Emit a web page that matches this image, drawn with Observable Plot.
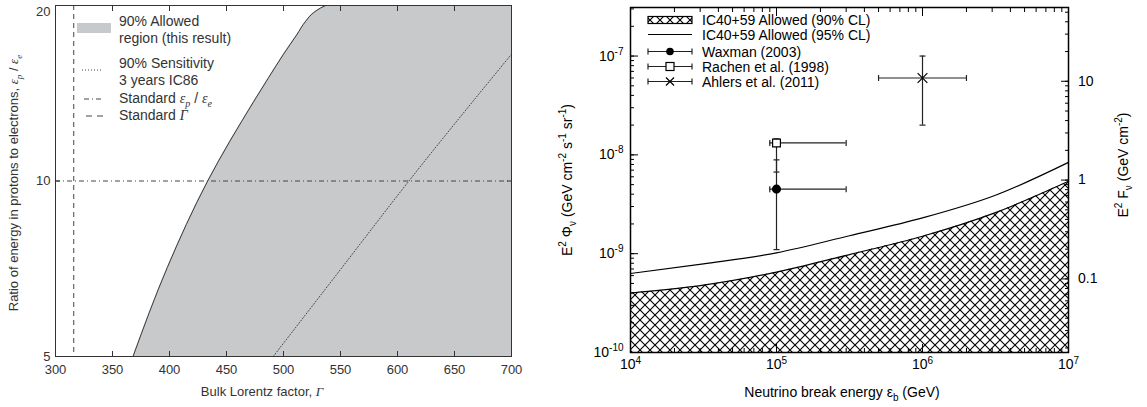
<!DOCTYPE html>
<html><head><meta charset="utf-8">
<script src="https://cdn.jsdelivr.net/npm/d3@7"></script>
<script src="https://cdn.jsdelivr.net/npm/@observablehq/plot@0.6"></script>
<style>
body{margin:0;background:#fff;}
#wrap{position:relative;width:1147px;height:407px;overflow:hidden;background:#fff;}
#left,#right{position:absolute;top:0;}
#left{left:0;} #right{left:540px;}
</style></head><body><div id="wrap"><div id="left"></div><div id="right"></div></div>
<script>
// ---------- Left panel data ----------
const gammaDomain = [300, 700];
const ratioDomain = [5, 20];
const gammaTicks = [300, 350, 400, 450, 500, 550, 600, 650, 700];
const ratioTicks = [5, 10, 20];
const allowedGamma = [368, 398, 433.5, 474, 487, 500, 511.5, 519.5, 526.5, 532.5, 537];
const allowedRatio = [5, 7.1, 10, 13.7, 15.05, 16.5, 17.8, 18.8, 19.45, 19.8, 20];
const sensGamma = [491, 550, 610, 700];
const sensRatio = [5, 7.05, 10, 16.5];
const standardRatio = [10];
const standardGamma = [316];

// ---------- Right panel data ----------
const energyDomain = [1e4, 1e7];
const fluxDomain = [1e-10, 3.1e-7];
const energyTicks = [1e4, 1e5, 1e6, 1e7];
const fluxTicks = [1e-10, 1e-9, 1e-8, 1e-7];
const fluenceTicks = [0.1, 1, 10];
const fluencePerFlux = 1.8e8;
const energy = [1e4, 3.16e4, 1e5, 3.16e5, 1e6, 3.16e6, 1e7];
const allowed95 = [6.3e-10, 7.9e-10, 1.02e-9, 1.52e-9, 2.3e-9, 3.9e-9, 8.4e-9];
const allowed90 = [4.0e-10, 4.8e-10, 6.5e-10, 9.8e-10, 1.5e-9, 2.6e-9, 5.4e-9];
const models = ["Waxman (2003)", "Rachen et al. (1998)", "Ahlers et al. (2011)"];
const modelE = [1e5, 1e5, 1e6];
const modelEmin = [9e4, 9e4, 5e5];
const modelEmax = [3e5, 3e5, 2e6];
const modelFlux = [4.5e-9, 1.32e-8, 6.0e-8];
const modelFluxMin = [1.1e-9, 6.7e-9, 2.0e-8];
const modelFluxMax = [8.9e-9, 1.45e-8, 1.0e-7];

// ---------- helpers ----------
const sans = "'Liberation Sans', Arial, Helvetica, sans-serif";
const serif = "'Liberation Serif', 'Times New Roman', serif";
const grayInk = "#333";
const grayFill = "#c8c9cb";
function rich(textSel, parts, fs) {
  let shift = 0;
  for (const p of parts) {
    const target = p.sup ? -0.42 * fs : p.sub ? 0.3 * fs : 0;
    const ts = textSel.append("tspan").text(p.t);
    if (target - shift !== 0) ts.attr("dy", target - shift);
    shift = target;
    if (p.sup || p.sub) ts.attr("font-size", Math.round(fs * 0.72));
    if (p.it) ts.attr("font-style", "italic").attr("font-family", serif);
  }
}
function supTicks(svg, fs) {
  d3.select(svg).selectAll("text").each(function () {
    const t = d3.select(this); const s = t.text();
    if (s.includes("^")) {
      const [b, e] = s.split("^");
      t.text("");
      t.append("tspan").text(b);
      t.append("tspan").attr("dy", -0.42 * fs).attr("font-size", Math.round(fs * 0.72)).text(e);
    }
  });
}
const vcap = {draw(ctx, size) { const r = Math.sqrt(size / Math.PI); ctx.moveTo(0, -r); ctx.lineTo(0, r); }};
const hcap = {draw(ctx, size) { const r = Math.sqrt(size / Math.PI); ctx.moveTo(-r, 0); ctx.lineTo(r, 0); }};

// ---------- Left plot ----------
const allowedRows = allowedRatio.map((r, i) => ({r, g: allowedGamma[i]}));
const sensRows = sensRatio.map((r, i) => ({r, g: sensGamma[i]}));
const left = Plot.plot({
  width: 540, height: 407,
  marginLeft: 55, marginRight: 29, marginTop: 5, marginBottom: 51,
  style: {fontFamily: sans, fontSize: "13px", color: grayInk, background: "white", overflow: "visible"},
  x: {domain: gammaDomain, label: null},
  y: {type: "log", domain: ratioDomain, label: null},
  marks: [
    Plot.areaX(allowedRows, {y: "r", x1: "g", x2: gammaDomain[1], fill: grayFill, curve: "monotone-y"}),
    Plot.lineX(allowedRows, {x: "g", y: "r", stroke: "#3a3a3a", strokeWidth: 1, curve: "monotone-y"}),
    Plot.lineX(sensRows, {x: "g", y: "r", stroke: "#444", strokeWidth: 1, strokeDasharray: "1,2", curve: "monotone-y"}),
    Plot.ruleY(standardRatio, {stroke: "#444", strokeWidth: 1, strokeDasharray: "5,3,1,3"}),
    Plot.ruleX(standardGamma, {stroke: "#444", strokeWidth: 1, strokeDasharray: "5,4"}),
    Plot.frame({stroke: "#333"}),
    Plot.axisX({anchor: "bottom", ticks: gammaTicks, tickSize: -5, tickPadding: 13, label: null}),
    Plot.axisX({anchor: "top", ticks: gammaTicks, tickSize: -5, tickFormat: () => "", label: null}),
    Plot.axisY({anchor: "left", ticks: ratioTicks, tickSize: -5, tickPadding: 10, tickFormat: d => String(d), label: null}),
    Plot.axisY({anchor: "right", ticks: ratioTicks, tickSize: -5, tickFormat: () => "", label: null})
  ]
});
document.getElementById("left").appendChild(left);
{
  const s = d3.select(left);
  // keep the top tick label ("20") fully inside the picture
  s.selectAll("text").filter(function () { return d3.select(this).text() === String(ratioDomain[1]); }).attr("dy", "0.45em");
  const xl = s.append("text").attr("x", 262).attr("y", 396).attr("text-anchor", "middle")
    .attr("font-size", 13).attr("fill", grayInk).attr("font-family", sans);
  rich(xl, [{t: "Bulk Lorentz factor, "}, {t: "Γ", it: true}], 13);
  const yl = s.append("text").attr("transform", "translate(18,183) rotate(-90)").attr("text-anchor", "middle")
    .attr("font-size", 13).attr("fill", grayInk).attr("font-family", sans);
  rich(yl, [{t: "Ratio of energy in protons to electrons, "}, {t: "ε", it: true}, {t: "p", it: true, sub: true}, {t: " / "}, {t: "ε", it: true}, {t: "e", it: true, sub: true}], 13);
  // legend
  const lg = s.append("g").attr("font-size", 14).attr("fill", grayInk).attr("font-family", sans).attr("text-anchor", "start");
  lg.append("rect").attr("x", 77).attr("y", 23).attr("width", 34).attr("height", 10).attr("fill", grayFill);
  lg.append("text").attr("x", 119).attr("y", 26).text("90% Allowed");
  lg.append("text").attr("x", 119).attr("y", 43).text("region (this result)");
  lg.append("line").attr("x1", 82).attr("x2", 101).attr("y1", 70).attr("y2", 70).attr("stroke", "#444").attr("stroke-dasharray", "1,2");
  lg.append("text").attr("x", 119).attr("y", 68).text("90% Sensitivity");
  lg.append("text").attr("x", 119).attr("y", 85).text("3 years IC86");
  lg.append("line").attr("x1", 84).attr("x2", 104).attr("y1", 99).attr("y2", 99).attr("stroke", "#444").attr("stroke-dasharray", "5,3,1,3");
  const t3 = lg.append("text").attr("x", 119).attr("y", 103);
  rich(t3, [{t: "Standard "}, {t: "ε", it: true}, {t: "p", it: true, sub: true}, {t: " / "}, {t: "ε", it: true}, {t: "e", it: true, sub: true}], 14);
  lg.append("line").attr("x1", 86).attr("x2", 104).attr("y1", 116).attr("y2", 116).attr("stroke", "#444").attr("stroke-dasharray", "6,5");
  const t4 = lg.append("text").attr("x", 119).attr("y", 120);
  rich(t4, [{t: "Standard "}, {t: "Γ", it: true}], 14);
}

// ---------- Right plot ----------
const curveRows = energy.map((e, i) => ({e, f90: allowed90[i], f95: allowed95[i]}));
const modelRows = models.map((name, i) => ({name, e: modelE[i], emin: modelEmin[i], emax: modelEmax[i], f: modelFlux[i], fmin: modelFluxMin[i], fmax: modelFluxMax[i]}));
const eMinor = d3.scaleLog().domain(energyDomain).ticks();
const fMinor = d3.scaleLog().domain(fluxDomain).ticks();
const fluenceMinor = d3.scaleLog().domain(fluxDomain.map(v => v * fluencePerFlux)).ticks().map(v => v / fluencePerFlux);
const fluenceMajor = fluenceTicks.map(v => v / fluencePerFlux);
const ink = "#222";
const rW = 607, rMR = 79;
const right = Plot.plot({
  width: rW, height: 407,
  marginLeft: 90, marginRight: rMR, marginTop: 7, marginBottom: 55,
  style: {fontFamily: sans, fontSize: "14px", color: "black", background: "white", overflow: "visible"},
  x: {type: "log", domain: energyDomain, label: null},
  y: {type: "log", domain: fluxDomain, label: null},
  marks: [
    Plot.areaY(curveRows, {x: "e", y1: fluxDomain[0], y2: "f90", fill: "url(#hatch)", curve: "monotone-x"}),
    Plot.lineY(curveRows, {x: "e", y: "f90", stroke: "black", strokeWidth: 1.2, curve: "monotone-x"}),
    Plot.lineY(curveRows, {x: "e", y: "f95", stroke: "black", strokeWidth: 1.2, curve: "monotone-x"}),
    Plot.ruleY(modelRows, {y: "f", x1: "emin", x2: "emax", stroke: ink, strokeWidth: 1.2}),
    Plot.ruleX(modelRows, {x: "e", y1: "fmin", y2: "fmax", stroke: ink, strokeWidth: 1.2}),
    Plot.dot(modelRows, {x: "emin", y: "f", symbol: vcap, r: 3, stroke: ink, strokeWidth: 1.2}),
    Plot.dot(modelRows, {x: "emax", y: "f", symbol: vcap, r: 3, stroke: ink, strokeWidth: 1.2}),
    Plot.dot(modelRows, {x: "e", y: "fmin", symbol: hcap, r: 3, stroke: ink, strokeWidth: 1.2}),
    Plot.dot(modelRows, {x: "e", y: "fmax", symbol: hcap, r: 3, stroke: ink, strokeWidth: 1.2}),
    Plot.dot(modelRows.filter(d => d.name === models[0]), {x: "e", y: "f", symbol: "circle", r: 3.8, fill: "black", stroke: "black"}),
    Plot.dot(modelRows.filter(d => d.name === models[1]), {x: "e", y: "f", symbol: "square", r: 4.4, fill: "white", stroke: "black", strokeWidth: 1.2}),
    Plot.dot(modelRows.filter(d => d.name === models[2]), {x: "e", y: "f", symbol: "times", r: 4.5, stroke: "black", strokeWidth: 1.2}),
    Plot.frame({stroke: "black", strokeWidth: 1.5}),
    Plot.axisX({anchor: "bottom", ticks: eMinor, tickSize: -4, tickFormat: () => "", label: null}),
    Plot.axisX({anchor: "bottom", ticks: energyTicks, tickSize: -8, tickPadding: 15, tickFormat: d => "10^" + Math.round(Math.log10(d)), label: null}),
    Plot.axisX({anchor: "top", ticks: eMinor, tickSize: -4, tickFormat: () => "", label: null}),
    Plot.axisX({anchor: "top", ticks: energyTicks, tickSize: -8, tickFormat: () => "", label: null}),
    Plot.axisY({anchor: "left", ticks: fMinor, tickSize: -4, tickFormat: () => "", label: null}),
    Plot.axisY({anchor: "left", ticks: fluxTicks, tickSize: -8, tickPadding: 15, tickFormat: d => "10^" + Math.round(Math.log10(d)), label: null}),
    Plot.axisY({anchor: "right", ticks: fluenceMinor, tickSize: -4, tickFormat: () => "", label: null}),
    Plot.axisY({anchor: "right", ticks: fluenceMajor, tickSize: -8, tickFormat: () => "", label: null})
  ]
});
document.getElementById("right").appendChild(right);
{
  const s = d3.select(right);
  const defs = s.insert("defs", ":first-child");
  const pat = defs.append("pattern").attr("id", "hatch").attr("patternUnits", "userSpaceOnUse")
    .attr("width", 10).attr("height", 10);
  pat.append("rect").attr("width", 10).attr("height", 10).attr("fill", "white");
  pat.append("path").attr("d", "M-2,-2L12,12M12,-2L-2,12").attr("stroke", "black").attr("stroke-width", 1.1).attr("fill", "none");
  supTicks(right, 14);
  const ys = right.scale("y");
  const gR = s.append("g").attr("font-size", 14).attr("font-family", sans).attr("text-anchor", "start").attr("fill", "black");
  fluenceTicks.forEach(f => gR.append("text").attr("x", rW - rMR + 10).attr("y", ys.apply(f / fluencePerFlux)).attr("dy", "0.35em").text(String(f)));
  const xl = s.append("text").attr("x", 302).attr("y", 397).attr("text-anchor", "middle").attr("font-size", 14).attr("font-family", sans);
  rich(xl, [{t: "Neutrino break energy ε"}, {t: "b", sub: true}, {t: " (GeV)"}], 14);
  const yl = s.append("text").attr("transform", "translate(32,180) rotate(-90)").attr("text-anchor", "middle").attr("font-size", 14).attr("font-family", sans);
  rich(yl, [{t: "E"}, {t: "2", sup: true}, {t: " Φ"}, {t: "ν", sub: true}, {t: " (GeV cm"}, {t: "-2", sup: true}, {t: " s"}, {t: "-1", sup: true}, {t: " sr"}, {t: "-1", sup: true}, {t: ")"}], 14);
  const yr = s.append("text").attr("transform", "translate(588,165) rotate(-90)").attr("text-anchor", "middle").attr("font-size", 14).attr("font-family", sans);
  rich(yr, [{t: "E"}, {t: "2", sup: true}, {t: " F"}, {t: "ν", sub: true}, {t: " (GeV cm"}, {t: "-2", sup: true}, {t: ")"}], 14);
  const lg = s.append("g").attr("font-size", 14).attr("font-family", sans).attr("fill", "black").attr("text-anchor", "start");
  const lx0 = 108, lx1 = 152, lmx = 130, tx = 162;
  const rows = [20, 34.5, 51.5, 66.5, 81.5];
  lg.append("rect").attr("x", lx0).attr("y", rows[0] - 3.5).attr("width", lx1 - lx0).attr("height", 7).attr("fill", "url(#hatch)").attr("stroke", "black").attr("stroke-width", 1.2);
  lg.append("line").attr("x1", lx0).attr("x2", lx1).attr("y1", rows[1]).attr("y2", rows[1]).attr("stroke", "black").attr("stroke-width", 1.2);
  for (let i = 2; i < 5; i++) {
    const y = rows[i];
    lg.append("line").attr("x1", lx0).attr("x2", lx1).attr("y1", y).attr("y2", y).attr("stroke", ink).attr("stroke-width", 1.2);
    lg.append("line").attr("x1", lx0).attr("x2", lx0).attr("y1", y - 3).attr("y2", y + 3).attr("stroke", ink).attr("stroke-width", 1.2);
    lg.append("line").attr("x1", lx1).attr("x2", lx1).attr("y1", y - 3).attr("y2", y + 3).attr("stroke", ink).attr("stroke-width", 1.2);
  }
  lg.append("circle").attr("cx", lmx).attr("cy", rows[2]).attr("r", 3.8).attr("fill", "black");
  lg.append("rect").attr("x", lmx - 4).attr("y", rows[3] - 4).attr("width", 8).attr("height", 8).attr("fill", "white").attr("stroke", "black").attr("stroke-width", 1.2);
  lg.append("path").attr("d", `M${lmx - 4},${rows[4] - 4}L${lmx + 4},${rows[4] + 4}M${lmx + 4},${rows[4] - 4}L${lmx - 4},${rows[4] + 4}`).attr("stroke", "black").attr("stroke-width", 1.2);
  const labels = ["IC40+59 Allowed (90% CL)", "IC40+59 Allowed (95% CL)", ...models];
  labels.forEach((t, i) => lg.append("text").attr("x", tx).attr("y", rows[i] + 5).text(t));
}
</script>
</body></html>
